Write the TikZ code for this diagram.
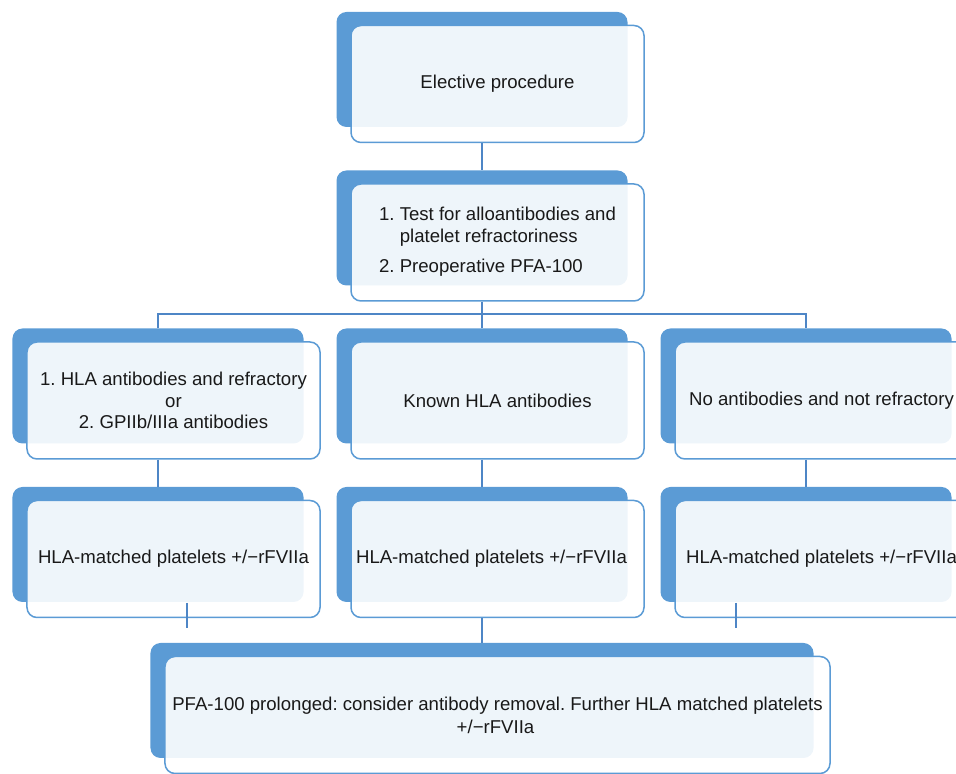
\documentclass[tikz,border=0pt]{standalone}
\usepackage{fontspec}
\newfontfamily\boxfont{Liberation Sans}
\usetikzlibrary{calc}
\frenchspacing
\definecolor{boxblue}{HTML}{5B9BD5}
\definecolor{boxline}{HTML}{5B9BD5}
\definecolor{connblue}{HTML}{4E86C6}
\tikzset{
  frontbox/.style={draw=boxline, line width=1.5bp, rounded corners=10bp, fill=white,
    fill opacity=0.9, text opacity=1, minimum height=117bp, inner sep=2bp,
    align=center, font=\boxfont\fontsize{18.6bp}{21.5bp}\selectfont, text=black!90},
  backbox/.style={fill=boxblue, draw=none, rounded corners=10bp, minimum height=115bp, inner sep=0pt},
  conn/.style={draw=connblue, line width=1.6bp}
}
\newcommand\pfbox[5]{%
  \node[backbox, minimum width={#4bp-2bp}] (#1b) at (#2-15.5,#3+14.5) {};
  \node[frontbox, minimum width={#4bp}] (#1) at (#2,#3) {#5};}
\begin{document}
\begin{tikzpicture}[x=1bp,y=1bp]
\useasboundingbox (0,0) rectangle (956,774);
% row 1
\pfbox{f1}{497.5}{690}{293}{Elective procedure}
\pfbox{f2}{497.5}{531.5}{293}{\begin{tabular}{@{}l@{}}1.~Test for alloantibodies and\\\hphantom{1.~}platelet refractoriness\\[9bp]2.~Preoperative PFA-100\end{tabular}}
% row 2
\pfbox{f3}{173.5}{373.5}{293}{1. HLA antibodies and refractory\\or\\2. GPIIb/IIIa antibodies}
\pfbox{f4}{497.5}{373.5}{293}{Known HLA antibodies}
\pfbox{f5}{821.5}{373.5}{293}{No antibodies and not refractory}
% row 3
\pfbox{f6}{173.5}{215}{293}{HLA-matched platelets +/−rFVIIa}
\pfbox{f7}{497.5}{215}{293}{HLA-matched platelets +/−rFVIIa\kern12bp}
\pfbox{f8}{821.5}{215}{293}{HLA-matched platelets +/−rFVIIa}
% bottom
\pfbox{f9}{497.5}{59}{665}{PFA-100 prolonged: consider antibody removal. Further HLA matched platelets\\[1.5bp]+/−rFVIIa\kern4bp}
% connectors
\coordinate (bus) at (0,460);
\draw[conn] (f1b.south |- f1.south) -- (f2b.north);
\draw[conn] (f2b.south |- f2.south) -- (f2b.south |- bus);
\draw[conn] (f3b.north) -- (f3b.north |- bus) -- (f5b.north |- bus) -- (f5b.north);
\draw[conn] (f4b.north) -- (f4b.north |- bus);
\draw[conn] (f3b.south |- f3.south) -- (f6b.north);
\draw[conn] (f4b.south |- f4.south) -- (f7b.north);
\draw[conn] (f5b.south |- f5.south) -- (f8b.north);
\draw[conn] (f7b.south |- f7.south) -- (f9b.north);
\coordinate (t1a) at (187,171);
\coordinate (t1b) at (187,146);
\coordinate (t2a) at (736,171);
\coordinate (t2b) at (736,146);
\draw[conn] (t1a) -- (t1b);
\draw[conn] (t2a) -- (t2b);
\end{tikzpicture}
\end{document}
